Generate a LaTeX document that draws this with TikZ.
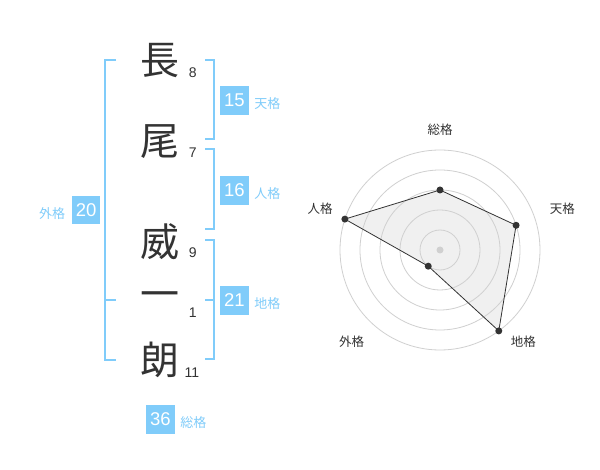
\documentclass[tikz,border=0pt]{standalone}
\usepackage{fontspec}
\setmainfont{Liberation Sans}
\newfontfamily\jp{Noto Sans CJK JP}
\usetikzlibrary{positioning}
\definecolor{kakublue}{RGB}{128,204,250}
\definecolor{ink}{RGB}{51,51,51}
\definecolor{ring}{RGB}{208,208,208}
\definecolor{area}{RGB}{240,240,240}
\tikzstyle{moji}=[inner sep=0, ink, font=\jp\fontsize{39}{39}\selectfont]
\tikzstyle{kakusu}=[inner sep=0, ink, font=\fontsize{14}{14}\selectfont]
\tikzstyle{kakubox}=[fill=kakublue, text=white, minimum size=28.5, inner sep=0, font=\fontsize{18.5}{18.5}\selectfont]
\tikzstyle{kakuname}=[inner sep=0, kakublue, font=\jp\fontsize{13}{13}\selectfont]
\tikzstyle{axisname}=[inner sep=0, ink, font=\jp\fontsize{12.5}{12.5}\selectfont]
\tikzstyle{bracket}=[kakublue, line width=2]
\tikzstyle{ringline}=[ring, line width=0.8]

\begin{document}
\begin{tikzpicture}[x=1pt, y=-1pt]
\useasboundingbox[fill=white] (0,0) rectangle (600,470);
% Name
    \node[moji] (c1) at (160,61) {長};
    \node[moji] (c2) at (160,141.5) {尾};
    \node[moji] (c3) at (160,242) {威};
    \node[moji] (c4) at (160,300) {一};
    \node[moji] (c5) at (160,360) {朗};
% Strokes
    \node[kakusu] (s1) at (192.7,72.7) {8};
    \node[kakusu] (s2) at (192.7,152.5) {7};
    \node[kakusu] (s3) at (192.7,252.7) {9};
    \node[kakusu] (s4) at (192.7,313) {1};
    \node[kakusu] (s5) at (192,372.2) {11};
% Brackets
    \draw[bracket] (116,60) -- (105,60) -- (105,360) -- (116,360);
    \draw[bracket] (105,300) -- (116,300);
    \draw[bracket] (205,60) -- (214,60) -- (214,139.5) -- (205,139.5);
    \draw[bracket] (205,149.5) -- (214,149.5) -- (214,229.5) -- (205,229.5);
    \draw[bracket] (205,240) -- (214,240) -- (214,359.5) -- (205,359.5);
    \draw[bracket] (205,300) -- (214,300);
% Kaku
    \node[kakubox] (ten) at (234.3,100.3) {15};
    \node[kakubox] (jin) at (234.3,190.3) {16};
    \node[kakubox] (chi) at (234.3,300.3) {21};
    \node[kakubox] (gai) at (86.2,210) {20};
    \node[kakubox] (sou) at (160.3,419.3) {36};
    \node[kakuname, right=5.5pt of ten, yshift=-3.7pt] (tenname) {天格};
    \node[kakuname, right=5.5pt of jin, yshift=-3.7pt] (jinname) {人格};
    \node[kakuname, right=5.5pt of chi, yshift=-3.7pt] (chiname) {地格};
    \node[kakuname, left=6.5pt of gai, yshift=-3.7pt] (gainame) {外格};
    \node[kakuname, right=5.5pt of sou, yshift=-3pt] (souname) {総格};
% Radar
\begin{scope}[shift={(440,250)}]
    \coordinate (center) at (0,0);
    \coordinate (rsou) at (-90:60);
    \coordinate (rten) at (-18:80);
    \coordinate (rchi) at (54:100);
    \coordinate (rgai) at (126:20);
    \coordinate (rjin) at (198:100);
    \fill[area] (rsou) -- (rten) -- (rchi) -- (rgai) -- (rjin) -- cycle;
    \draw[ringline] (center) circle (20);
    \draw[ringline] (center) circle (40);
    \draw[ringline] (center) circle (60);
    \draw[ringline] (center) circle (80);
    \draw[ringline] (center) circle (100);
    \fill[ring] (center) circle (3.5);
    \draw[ink, line width=0.8] (rsou) -- (rten) -- (rchi) -- (rgai) -- (rjin) -- cycle;
    \fill[ink] (rsou) circle (3.5);
    \fill[ink] (rten) circle (3.5);
    \fill[ink] (rchi) circle (3.5);
    \fill[ink] (rgai) circle (3.5);
    \fill[ink] (rjin) circle (3.5);
\end{scope}
    \node[axisname] (axsou) at (440,130) {総格};
    \node[axisname] (axten) at (562.3,208.3) {天格};
    \node[axisname] (axchi) at (523.3,341.7) {地格};
    \node[axisname] (axgai) at (351.7,341.7) {外格};
    \node[axisname] (axjin) at (320,208.3) {人格};
\end{tikzpicture}
\end{document}
